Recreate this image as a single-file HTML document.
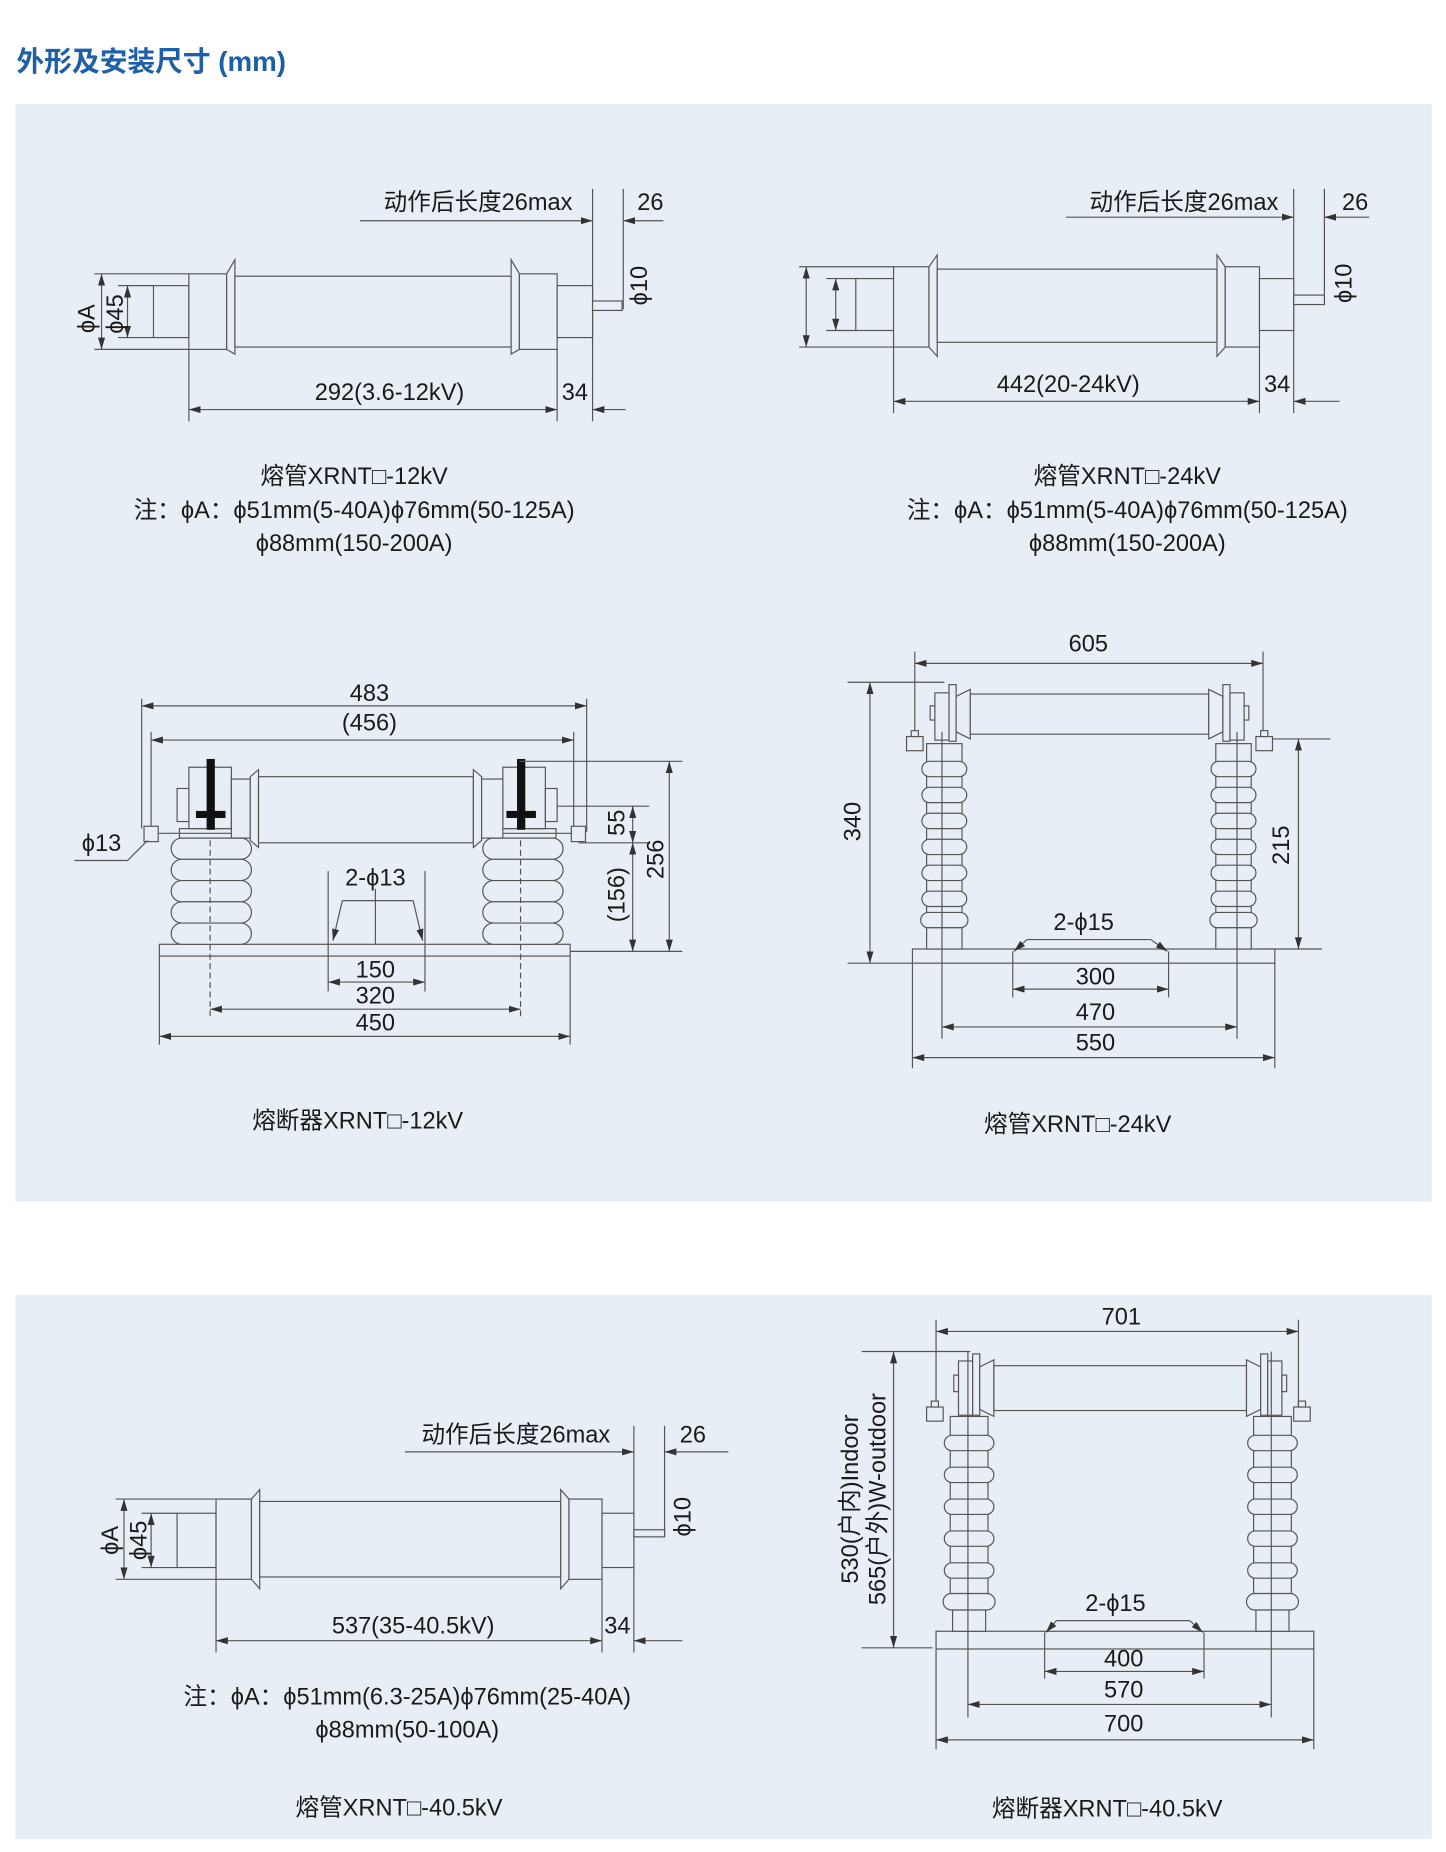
<!DOCTYPE html>
<html><head><meta charset="utf-8"><style>
html,body{margin:0;padding:0;background:#fff;}
svg{display:block;}
text{font-family:"Liberation Sans","Noto Sans CJK SC",sans-serif;fill:#1a1a1a;font-size:20px;}
</style></head><body>
<svg width="1446" height="1852" viewBox="0 0 1225 1569" xmlns="http://www.w3.org/2000/svg">
<defs>
<marker id="a" viewBox="0 0 10 6" refX="10" refY="3" markerWidth="10" markerHeight="6" markerUnits="userSpaceOnUse" orient="auto-start-reverse"><path d="M0,0 L10,3 L0,6 z" fill="#333"/></marker>
</defs>
<rect x="0" y="0" width="1225" height="1569" fill="#fff"/>
<text x="14" y="60" style="font-size:23.5px;font-weight:bold;fill:#1d5fa8">外形及安装尺寸 (mm)</text>
<rect x="13" y="88" width="1200" height="930" fill="#e8eef5"/>
<rect x="13" y="1097" width="1200" height="461" fill="#e8eef5"/>

<g stroke="#555" stroke-width="1" fill="none">
<!-- ===== Diagram 1 ===== -->
<line x1="305" y1="187" x2="502" y2="187" marker-end="url(#a)"/>
<line x1="562" y1="187" x2="528" y2="187" marker-end="url(#a)"/>
<line x1="502" y1="160" x2="502" y2="357"/>
<line x1="528" y1="160" x2="528" y2="262"/>
<line x1="80" y1="232" x2="160" y2="232"/><line x1="80" y1="296" x2="160" y2="296"/>
<line x1="86" y1="232" x2="86" y2="296" marker-start="url(#a)" marker-end="url(#a)"/>
<line x1="100" y1="242" x2="130" y2="242"/><line x1="100" y1="286" x2="130" y2="286"/>
<line x1="108" y1="242" x2="108" y2="286" marker-start="url(#a)" marker-end="url(#a)"/>
<g fill="#e8eef5">
<rect x="130" y="242" width="30" height="44"/>
<rect x="160" y="232" width="32" height="64"/>
<path d="M192,232 L199,220 L199,300 L192,296 Z"/>
<rect x="199" y="234" width="234" height="60"/>
<path d="M440,232 L433,220 L433,300 L440,296 Z"/>
<rect x="440" y="232" width="32" height="64"/>
<rect x="472" y="242" width="30" height="44"/>
<rect x="502" y="255" width="25" height="8"/>
</g>
<line x1="160" y1="296" x2="160" y2="357"/><line x1="472" y1="296" x2="472" y2="357"/>
<line x1="160" y1="347" x2="472" y2="347" marker-start="url(#a)" marker-end="url(#a)"/>
<line x1="530" y1="347" x2="502" y2="347" marker-end="url(#a)"/>

<!-- ===== Diagram 2 ===== -->
<line x1="903" y1="184" x2="1096" y2="184" marker-end="url(#a)"/>
<line x1="1160" y1="184" x2="1122" y2="184" marker-end="url(#a)"/>
<line x1="1096" y1="160" x2="1096" y2="350"/>
<line x1="1122" y1="160" x2="1122" y2="256"/>
<line x1="677" y1="226" x2="757" y2="226"/><line x1="677" y1="294" x2="757" y2="294"/>
<line x1="683" y1="226" x2="683" y2="294" marker-start="url(#a)" marker-end="url(#a)"/>
<line x1="700" y1="236" x2="725" y2="236"/><line x1="700" y1="280" x2="725" y2="280"/>
<line x1="708" y1="236" x2="708" y2="280" marker-start="url(#a)" marker-end="url(#a)"/>
<g fill="#e8eef5">
<rect x="725" y="236" width="32" height="44"/>
<rect x="757" y="226" width="30" height="68"/>
<path d="M787,226 L794,216 L794,302 L787,294 Z"/>
<rect x="794" y="228" width="237" height="62"/>
<path d="M1038,226 L1031,216 L1031,302 L1038,294 Z"/>
<rect x="1038" y="226" width="29" height="68"/>
<rect x="1067" y="236" width="29" height="44"/>
<rect x="1096" y="250" width="26" height="8"/>
</g>
<line x1="757" y1="294" x2="757" y2="350"/><line x1="1067" y1="294" x2="1067" y2="350"/>
<line x1="757" y1="340" x2="1067" y2="340" marker-start="url(#a)" marker-end="url(#a)"/>
<line x1="1135" y1="340" x2="1096" y2="340" marker-end="url(#a)"/>

<!-- ===== Diagram 3 (12kV assembly) ===== -->
<line x1="120" y1="592" x2="120" y2="702"/><line x1="497" y1="592" x2="497" y2="705"/>
<line x1="120" y1="598" x2="497" y2="598" marker-start="url(#a)" marker-end="url(#a)"/>
<line x1="128" y1="620" x2="128" y2="700"/><line x1="486" y1="620" x2="486" y2="700"/>
<line x1="128" y1="627" x2="486" y2="627" marker-start="url(#a)" marker-end="url(#a)"/>
<rect x="135" y="800" width="348" height="10" fill="#e8eef5"/>
<line x1="135" y1="810" x2="135" y2="885"/><line x1="483" y1="810" x2="483" y2="885"/>
<g fill="#e8eef5">
<rect x="145" y="710" width="68" height="18" rx="9"/><rect x="145" y="728" width="68" height="18" rx="9"/><rect x="145" y="746" width="68" height="18" rx="9"/><rect x="145" y="764" width="68" height="18" rx="9"/><rect x="145" y="782" width="68" height="18" rx="9"/>
<rect x="409" y="710" width="68" height="18" rx="9"/><rect x="409" y="728" width="68" height="18" rx="9"/><rect x="409" y="746" width="68" height="18" rx="9"/><rect x="409" y="764" width="68" height="18" rx="9"/><rect x="409" y="782" width="68" height="18" rx="9"/>
<rect x="152" y="702" width="56" height="8"/><rect x="415" y="702" width="56" height="8"/>
<rect x="122" y="700" width="12" height="13"/><rect x="484" y="700" width="12" height="13"/>
<line x1="134" y1="706" x2="484" y2="706"/>
<rect x="160" y="650" width="36" height="52"/><rect x="150" y="668" width="10" height="28"/>
<rect x="426" y="650" width="36" height="52"/><rect x="462" y="668" width="10" height="28"/>
<rect x="196" y="660" width="16" height="50"/>
<path d="M212,658 L219,652 L219,718 L212,712 Z"/>
<rect x="219" y="658" width="182" height="56"/>
<path d="M408,658 L401,652 L401,718 L408,712 Z"/>
<rect x="408" y="660" width="18" height="50"/>
</g>
<rect x="175" y="643" width="7" height="60" fill="#111" stroke="none"/>
<rect x="166" y="687" width="25" height="6" fill="#111" stroke="none"/>
<rect x="438" y="643" width="7" height="60" fill="#111" stroke="none"/>
<rect x="429" y="687" width="25" height="6" fill="#111" stroke="none"/>
<line x1="178" y1="712" x2="178" y2="862" stroke-dasharray="5,3"/>
<line x1="441" y1="712" x2="441" y2="862" stroke-dasharray="5,3"/>
<polyline points="63,729 108,729 125,712"/>
<line x1="440" y1="645" x2="578" y2="645"/>
<line x1="472" y1="683" x2="550" y2="683"/>
<line x1="490" y1="714" x2="550" y2="714"/>
<line x1="483" y1="806" x2="578" y2="806"/>
<line x1="536" y1="683" x2="536" y2="714" marker-start="url(#a)" marker-end="url(#a)"/>
<line x1="536" y1="714" x2="536" y2="806" marker-start="url(#a)" marker-end="url(#a)"/>
<line x1="567" y1="645" x2="567" y2="806" marker-start="url(#a)" marker-end="url(#a)"/>
<line x1="278" y1="738" x2="278" y2="840"/><line x1="360" y1="738" x2="360" y2="840"/>
<line x1="318" y1="753" x2="318" y2="800"/>
<polyline points="290,763 350,763"/>
<line x1="290" y1="763" x2="282" y2="797" marker-end="url(#a)"/>
<line x1="350" y1="763" x2="358" y2="797" marker-end="url(#a)"/>
<line x1="278" y1="832" x2="360" y2="832" marker-start="url(#a)" marker-end="url(#a)"/>
<line x1="178" y1="855" x2="441" y2="855" marker-start="url(#a)" marker-end="url(#a)"/>
<line x1="135" y1="878" x2="483" y2="878" marker-start="url(#a)" marker-end="url(#a)"/>

<!-- ===== Diagram 4 (24kV assembly) ===== -->
<line x1="775" y1="552" x2="775" y2="628"/><line x1="1070" y1="552" x2="1070" y2="628"/>
<line x1="775" y1="562" x2="1070" y2="562" marker-start="url(#a)" marker-end="url(#a)"/>
<line x1="718" y1="578" x2="800" y2="578"/><line x1="718" y1="816" x2="773" y2="816"/>
<line x1="737" y1="578" x2="737" y2="816" marker-start="url(#a)" marker-end="url(#a)"/>
<line x1="1075" y1="626" x2="1127" y2="626"/><line x1="1065" y1="804" x2="1120" y2="804"/>
<line x1="1100" y1="626" x2="1100" y2="804" marker-start="url(#a)" marker-end="url(#a)"/>
<g fill="#e8eef5">
<rect x="773" y="804" width="307" height="12"/>
<rect x="785" y="630" width="30" height="156"/><rect x="1030" y="630" width="30" height="156"/>
<rect x="781" y="645" width="38" height="13" rx="6.5"/><rect x="781" y="667" width="38" height="13" rx="6.5"/><rect x="781" y="689" width="38" height="13" rx="6.5"/><rect x="781" y="711" width="38" height="13" rx="6.5"/><rect x="781" y="733" width="38" height="13" rx="6.5"/><rect x="781" y="755" width="38" height="13" rx="6.5"/><rect x="780" y="773" width="40" height="13" rx="6.5"/>
<rect x="1026" y="645" width="38" height="13" rx="6.5"/><rect x="1026" y="667" width="38" height="13" rx="6.5"/><rect x="1026" y="689" width="38" height="13" rx="6.5"/><rect x="1026" y="711" width="38" height="13" rx="6.5"/><rect x="1026" y="733" width="38" height="13" rx="6.5"/><rect x="1026" y="755" width="38" height="13" rx="6.5"/><rect x="1025" y="773" width="40" height="13" rx="6.5"/>
<rect x="785" y="786" width="30" height="18"/><rect x="1030" y="786" width="30" height="18"/>
<rect x="792" y="587" width="12" height="40"/><rect x="788" y="598" width="4" height="12"/>
<rect x="804" y="580" width="6" height="48"/>
<path d="M810,590 L822,584 L822,626 L810,620 Z"/>
<rect x="822" y="588" width="202" height="34"/>
<path d="M1036,590 L1024,584 L1024,626 L1036,620 Z"/>
<rect x="1036" y="580" width="6" height="48"/>
<rect x="1042" y="587" width="12" height="40"/><rect x="1054" y="598" width="4" height="12"/>
<rect x="768" y="624" width="14" height="12"/><rect x="772" y="619" width="6" height="5"/>
<rect x="1064" y="624" width="14" height="12"/><rect x="1068" y="619" width="6" height="5"/>
</g>
<line x1="798" y1="620" x2="798" y2="880"/>
<line x1="1048" y1="620" x2="1048" y2="880"/>
<line x1="858" y1="806" x2="858" y2="845"/><line x1="990" y1="806" x2="990" y2="845"/>
<polyline points="870,796 975,796"/>
<line x1="870" y1="796" x2="859" y2="806" marker-end="url(#a)"/>
<line x1="975" y1="796" x2="989" y2="806" marker-end="url(#a)"/>
<line x1="858" y1="838" x2="990" y2="838" marker-start="url(#a)" marker-end="url(#a)"/>
<line x1="798" y1="870" x2="1048" y2="870" marker-start="url(#a)" marker-end="url(#a)"/>
<line x1="773" y1="816" x2="773" y2="905"/><line x1="1080" y1="816" x2="1080" y2="905"/>
<line x1="773" y1="896" x2="1080" y2="896" marker-start="url(#a)" marker-end="url(#a)"/>

<!-- ===== Diagram 5 ===== -->
<line x1="343" y1="1230" x2="537" y2="1230" marker-end="url(#a)"/>
<line x1="617" y1="1230" x2="563" y2="1230" marker-end="url(#a)"/>
<line x1="537" y1="1208" x2="537" y2="1400"/>
<line x1="563" y1="1208" x2="563" y2="1302"/>
<line x1="98" y1="1270" x2="183" y2="1270"/><line x1="98" y1="1338" x2="183" y2="1338"/>
<line x1="105" y1="1270" x2="105" y2="1338" marker-start="url(#a)" marker-end="url(#a)"/>
<line x1="120" y1="1282" x2="150" y2="1282"/><line x1="120" y1="1328" x2="150" y2="1328"/>
<line x1="128" y1="1282" x2="128" y2="1328" marker-start="url(#a)" marker-end="url(#a)"/>
<g fill="#e8eef5">
<rect x="150" y="1282" width="33" height="46"/>
<rect x="183" y="1270" width="30" height="68"/>
<path d="M213,1270 L220,1262 L220,1346 L213,1338 Z"/>
<rect x="220" y="1272" width="255" height="64"/>
<path d="M482,1270 L475,1262 L475,1346 L482,1338 Z"/>
<rect x="482" y="1270" width="28" height="68"/>
<rect x="510" y="1282" width="27" height="46"/>
<rect x="537" y="1296" width="26" height="6"/>
</g>
<line x1="183" y1="1338" x2="183" y2="1400"/><line x1="510" y1="1338" x2="510" y2="1400"/>
<line x1="183" y1="1390" x2="510" y2="1390" marker-start="url(#a)" marker-end="url(#a)"/>
<line x1="578" y1="1390" x2="537" y2="1390" marker-end="url(#a)"/>

<!-- ===== Diagram 6 ===== -->
<line x1="793" y1="1118" x2="793" y2="1200"/><line x1="1100" y1="1118" x2="1100" y2="1200"/>
<line x1="793" y1="1128" x2="1100" y2="1128" marker-start="url(#a)" marker-end="url(#a)"/>
<line x1="730" y1="1145" x2="822" y2="1145"/><line x1="730" y1="1396" x2="790" y2="1396"/>
<line x1="757" y1="1145" x2="757" y2="1396" marker-start="url(#a)" marker-end="url(#a)"/>
<g fill="#e8eef5">
<rect x="793" y="1382" width="320" height="15"/>
<rect x="805" y="1200" width="32" height="160"/><rect x="1062" y="1200" width="32" height="160"/>
<rect x="800" y="1216" width="42" height="13" rx="6.5"/><rect x="800" y="1243" width="42" height="13" rx="6.5"/><rect x="800" y="1270" width="42" height="13" rx="6.5"/><rect x="800" y="1297" width="42" height="13" rx="6.5"/><rect x="800" y="1324" width="42" height="13" rx="6.5"/><rect x="799" y="1350" width="44" height="14" rx="7"/>
<rect x="1057" y="1216" width="42" height="13" rx="6.5"/><rect x="1057" y="1243" width="42" height="13" rx="6.5"/><rect x="1057" y="1270" width="42" height="13" rx="6.5"/><rect x="1057" y="1297" width="42" height="13" rx="6.5"/><rect x="1057" y="1324" width="42" height="13" rx="6.5"/><rect x="1056" y="1350" width="44" height="14" rx="7"/>
<rect x="807" y="1364" width="28" height="18"/><rect x="1064" y="1364" width="28" height="18"/>
<rect x="812" y="1153" width="12" height="46"/><rect x="808" y="1165" width="4" height="14"/>
<rect x="824" y="1147" width="6" height="52"/>
<path d="M830,1158 L842,1152 L842,1200 L830,1194 Z"/>
<rect x="842" y="1157" width="214" height="38"/>
<path d="M1068,1158 L1056,1152 L1056,1200 L1068,1194 Z"/>
<rect x="1068" y="1147" width="6" height="52"/>
<rect x="1074" y="1153" width="12" height="46"/><rect x="1086" y="1165" width="4" height="14"/>
<rect x="785" y="1192" width="14" height="12"/><rect x="789" y="1187" width="6" height="5"/>
<rect x="1096" y="1192" width="14" height="12"/><rect x="1100" y="1187" width="6" height="5"/>
</g>
<line x1="820" y1="1145" x2="820" y2="1455"/>
<line x1="1077" y1="1145" x2="1077" y2="1455"/>
<line x1="885" y1="1383" x2="885" y2="1422"/><line x1="1020" y1="1383" x2="1020" y2="1422"/>
<polyline points="895,1373 1008,1373"/>
<line x1="895" y1="1373" x2="886" y2="1383" marker-end="url(#a)"/>
<line x1="1008" y1="1373" x2="1019" y2="1383" marker-end="url(#a)"/>
<line x1="885" y1="1416" x2="1020" y2="1416" marker-start="url(#a)" marker-end="url(#a)"/>
<line x1="820" y1="1444" x2="1077" y2="1444" marker-start="url(#a)" marker-end="url(#a)"/>
<line x1="793" y1="1397" x2="793" y2="1482"/><line x1="1113" y1="1397" x2="1113" y2="1482"/>
<line x1="793" y1="1474" x2="1113" y2="1474" marker-start="url(#a)" marker-end="url(#a)"/>
</g>

<!-- ===== Text ===== -->
<g text-anchor="middle">
<text x="405" y="178">动作后长度26max</text>
<text x="551" y="178">26</text>
<text x="0" y="0" transform="translate(80,270) rotate(-90)">ϕA</text>
<text x="0" y="0" transform="translate(104,266) rotate(-90)">ϕ45</text>
<text x="0" y="0" transform="translate(548,242) rotate(-90)">ϕ10</text>
<text x="330" y="339">292(3.6-12kV)</text>
<text x="487" y="339">34</text>
<text x="300" y="410">熔管XRNT□-12kV</text>
<text x="300" y="439">注：ϕA：ϕ51mm(5-40A)ϕ76mm(50-125A)</text>
<text x="300" y="467">ϕ88mm(150-200A)</text>

<text x="1003" y="178">动作后长度26max</text>
<text x="1148" y="178">26</text>
<text x="0" y="0" transform="translate(1145,240) rotate(-90)">ϕ10</text>
<text x="905" y="332">442(20-24kV)</text>
<text x="1082" y="332">34</text>
<text x="955" y="410">熔管XRNT□-24kV</text>
<text x="955" y="439">注：ϕA：ϕ51mm(5-40A)ϕ76mm(50-125A)</text>
<text x="955" y="467">ϕ88mm(150-200A)</text>

<text x="313" y="594">483</text>
<text x="313" y="619">(456)</text>
<text x="86" y="721">ϕ13</text>
<text x="0" y="0" transform="translate(529,697) rotate(-90)">55</text>
<text x="0" y="0" transform="translate(529,758) rotate(-90)">(156)</text>
<text x="0" y="0" transform="translate(562,728) rotate(-90)">256</text>
<text x="318" y="750">2-ϕ13</text>
<text x="318" y="828">150</text>
<text x="318" y="850">320</text>
<text x="318" y="873">450</text>
<text x="303" y="956">熔断器XRNT□-12kV</text>

<text x="922" y="552">605</text>
<text x="0" y="0" transform="translate(729,696) rotate(-90)">340</text>
<text x="0" y="0" transform="translate(1092,716) rotate(-90)">215</text>
<text x="918" y="788">2-ϕ15</text>
<text x="928" y="834">300</text>
<text x="928" y="864">470</text>
<text x="928" y="890">550</text>
<text x="913" y="959">熔管XRNT□-24kV</text>

<text x="437" y="1222">动作后长度26max</text>
<text x="587" y="1222">26</text>
<text x="0" y="0" transform="translate(100,1305) rotate(-90)">ϕA</text>
<text x="0" y="0" transform="translate(124,1305) rotate(-90)">ϕ45</text>
<text x="0" y="0" transform="translate(585,1285) rotate(-90)">ϕ10</text>
<text x="350" y="1384">537(35-40.5kV)</text>
<text x="523" y="1384">34</text>
<text x="345" y="1444">注：ϕA：ϕ51mm(6.3-25A)ϕ76mm(25-40A)</text>
<text x="345" y="1472">ϕ88mm(50-100A)</text>
<text x="338" y="1538">熔管XRNT□-40.5kV</text>

<text x="950" y="1122">701</text>
<text x="0" y="0" transform="translate(727,1270) rotate(-90)">530(户内)Indoor</text>
<text x="0" y="0" transform="translate(750,1270) rotate(-90)">565(户外)W-outdoor</text>
<text x="945" y="1365">2-ϕ15</text>
<text x="952" y="1412">400</text>
<text x="952" y="1438">570</text>
<text x="952" y="1467">700</text>
<text x="938" y="1539">熔断器XRNT□-40.5kV</text>
</g>
</svg>
</body></html>
